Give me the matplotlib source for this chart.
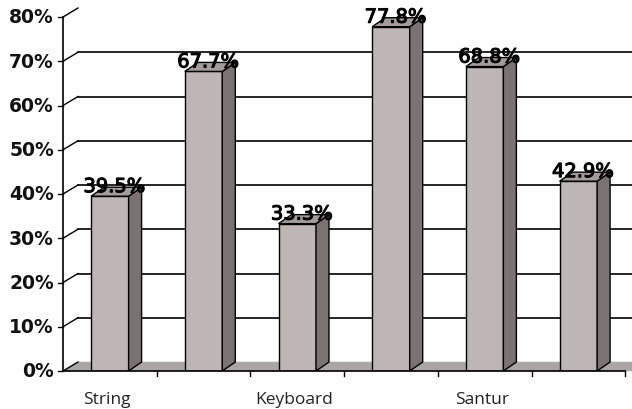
import matplotlib.pyplot as plt
import matplotlib.patheffects as pe
from matplotlib.patches import Polygon

# chart data
categories = ["String", "", "Keyboard", "", "Santur", ""]
values = [39.5, 67.7, 33.3, 77.8, 68.8, 42.9]
yticks = [0, 10, 20, 30, 40, 50, 60, 70, 80]

fig = plt.figure(figsize=(6.32, 4.10), dpi=100)
# axes placed so that 0% sits at y=372px and 80% at y=18px
ax = fig.add_axes([63 / 632, 38 / 410, 569 / 632, 354 / 410])
xmax = 569 / 93.7
ax.set_xlim(0, xmax)
ax.set_ylim(0, 80)
ax.axis("off")

px_x = 93.7          # px per category
px_y = 354 / 80      # px per percent
gdx, gdy = 15 / px_x, 9 / px_y   # back wall depth
bdx, bdy = 13 / px_x, 9 / px_y   # bar depth

front_c = "#bdb6b4"
side_c = "#7b7371"
top_c = "#a39c9a"

# floor
ax.add_patch(Polygon([(0, 0), (xmax, 0), (xmax + gdx, gdy), (gdx, gdy)],
                     closed=True, facecolor="#aaa6a4", edgecolor="#bbb7b5",
                     lw=0.5, zorder=1, clip_on=False))

# gridlines on back wall + slanted ticks
for t in yticks:
    if 0 < t < 80:
        ax.plot([gdx, xmax + gdx], [t + gdy, t + gdy], color="black", lw=1.2,
                zorder=0.5, clip_on=False)
    ax.plot([0, gdx], [t, t + gdy], color="black", lw=1, zorder=2, clip_on=False)
    ax.plot([-5 / px_x, 0], [t, t], color="black", lw=1, zorder=2, clip_on=False)
    ax.text(-9 / px_x, t, f"{t}%", ha="right", va="center", fontsize=13.5,
            fontweight="bold", family="DejaVu Sans", color="#111111")

# axes lines
ax.plot([0, 0], [0, 80], color="black", lw=1.2, zorder=6, clip_on=False)
ax.plot([0, 562 / px_x], [0, 0], color="black", lw=1.2, zorder=6, clip_on=False)
for i in range(1, 7):
    ax.plot([i, i], [0, -5 / px_y], color="black", lw=1, clip_on=False)

# bars
w = 0.2
for i, v in enumerate(values):
    c = i + 0.5
    ax.add_patch(Polygon([(c - w, 0), (c + w, 0), (c + w, v), (c - w, v)],
                         closed=True, facecolor=front_c, edgecolor="black",
                         lw=1, zorder=3))
    ax.add_patch(Polygon([(c + w, 0), (c + w + bdx, bdy), (c + w + bdx, v + bdy), (c + w, v)],
                         closed=True, facecolor=side_c, edgecolor="black",
                         lw=1, zorder=3))
    ax.add_patch(Polygon([(c - w, v), (c + w, v), (c + w + bdx, v + bdy), (c - w + bdx, v + bdy)],
                         closed=True, facecolor=top_c, edgecolor="black",
                         lw=1, zorder=3))
    ax.text(c + 0.05, v + bdy * 0.45, f"{v}%", ha="center", va="baseline",
            fontsize=14, family="DejaVu Sans", color="black", zorder=5,
            path_effects=[pe.withStroke(linewidth=0.8, foreground="black")])

# category labels
for i, lab in enumerate(categories):
    if lab:
        ax.text(i + 0.47, -28 / px_y, lab, ha="center", va="center",
                fontsize=12.5, family="Open Sans", color="#222222")

fig.savefig("out.png", dpi=100)
